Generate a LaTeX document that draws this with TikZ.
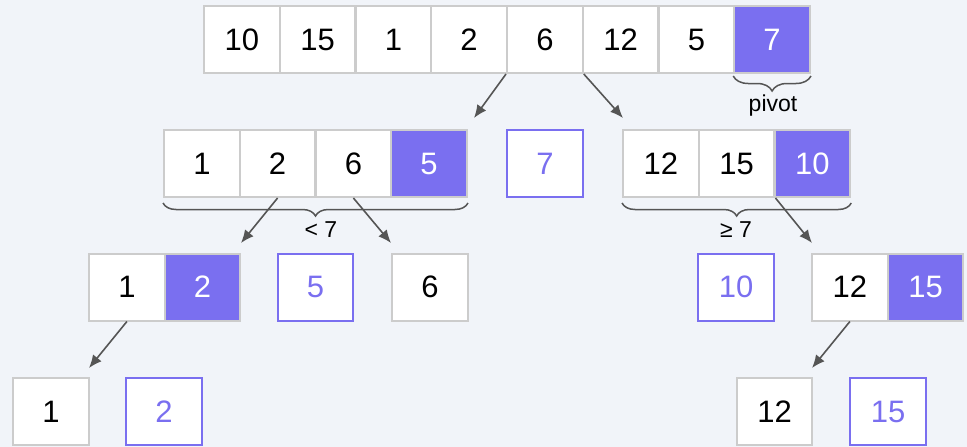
\documentclass[tikz,border=0pt]{standalone}
\usepackage{fontspec}
\setmainfont{Liberation Sans}
\usetikzlibrary{arrows.meta,decorations.pathreplacing}
\definecolor{bg}{HTML}{F1F4F9}
\definecolor{pv}{HTML}{7A6FF0}
\definecolor{edge}{HTML}{CCCCCC}
\definecolor{ink}{HTML}{555555}

\begin{document}
\begin{tikzpicture}[x=1pt,y=-1pt,
  cell/.style={draw=edge, line width=2pt, fill=white, minimum width=75.75pt,
    minimum height=67pt, inner sep=0pt, text=black,
    font=\fontsize{31}{37}\selectfont},
  pivotcell/.style={cell, fill=pv, text=white},
  placed/.style={cell, draw=pv, text=pv},
  link/.style={draw=ink, line width=1.6pt, -{Latex[length=13pt,width=11pt]}},
  bracket/.style={draw=ink, line width=1.5pt, decorate,
    decoration={brace, mirror, amplitude=#1}},
  note/.style={font=\fontsize{23}{27}\selectfont, text=black}
]
\fill[bg] (0,0) rectangle (967,447);
\useasboundingbox (0,0) rectangle (967,447);

% input array
\node[cell] (t1) at (241.9,39.5) {10};
\node[cell] (t2) at (317.6,39.5) {15};
\node[cell] (t3) at (393.4,39.5) {1};
\node[cell] (t4) at (469.1,39.5) {2};
\node[cell] (t5) at (544.9,39.5) {6};
\node[cell] (t6) at (620.6,39.5) {12};
\node[cell] (t7) at (696.4,39.5) {5};
\node[pivotcell] (t8) at (772.1,39.5) {7};
\draw[bracket=15pt] ([yshift=-2pt]t8.south west) -- ([yshift=-2pt]t8.south east);
\node[note] (pivotlabel) at (773,106) {pivot};

% first partition
\node[cell] (l1) at (201.9,163.5) {1};
\node[cell] (l2) at (277.6,163.5) {2};
\node[cell] (l3) at (353.4,163.5) {6};
\node[pivotcell] (l4) at (429.1,163.5) {5};
\node[placed] (m7) at (545,163.5) {7};
\node[cell] (r1) at (660.9,163.5) {12};
\node[cell] (r2) at (736.6,163.5) {15};
\node[pivotcell] (r3) at (812.4,163.5) {10};
\draw[bracket=13pt] ([yshift=-5pt]l1.south west) -- ([yshift=-5pt]l4.south east);
\draw[bracket=13pt] ([yshift=-5pt]r1.south west) -- ([yshift=-5pt]r3.south east);
\node[note] (lesslabel) at (321,230) {< 7};
\node[note] (geqlabel) at (736,230) {≥ 7};

% second partition
\node[cell] (a1) at (126.9,287) {1};
\node[pivotcell] (a2) at (202.6,287) {2};
\node[placed] (m5) at (315.5,287) {5};
\node[cell] (s6) at (430,287) {6};
\node[placed] (m10) at (736,287) {10};
\node[cell] (b1) at (849.9,287) {12};
\node[pivotcell] (b2) at (925.6,287) {15};

% third partition
\node[cell] (c1) at (51,411.5) {1};
\node[placed] (m2) at (164,411.5) {2};
\node[cell] (d1) at (774.5,411.5) {12};
\node[placed] (m15) at (888,411.5) {15};

% arrow ends
\coordinate (e1) at (474,118);
\coordinate (e2) at (623,118);
\coordinate (e3) at (241,243);
\coordinate (e4) at (391,243);
\coordinate (e5) at (812,243);
\coordinate (e6) at (89,368);
\coordinate (e7) at (812,368);

\draw[link] (t5.south west) -- (e1);
\draw[link] (t5.south east) -- (e2);
\draw[link] (l2.south) -- (e3);
\draw[link] (l3.south) -- (e4);
\draw[link] (r2.south east) -- (e5);
\draw[link] (a1.south) -- (e6);
\draw[link] (b1.south) -- (e7);
\end{tikzpicture}
\end{document}
